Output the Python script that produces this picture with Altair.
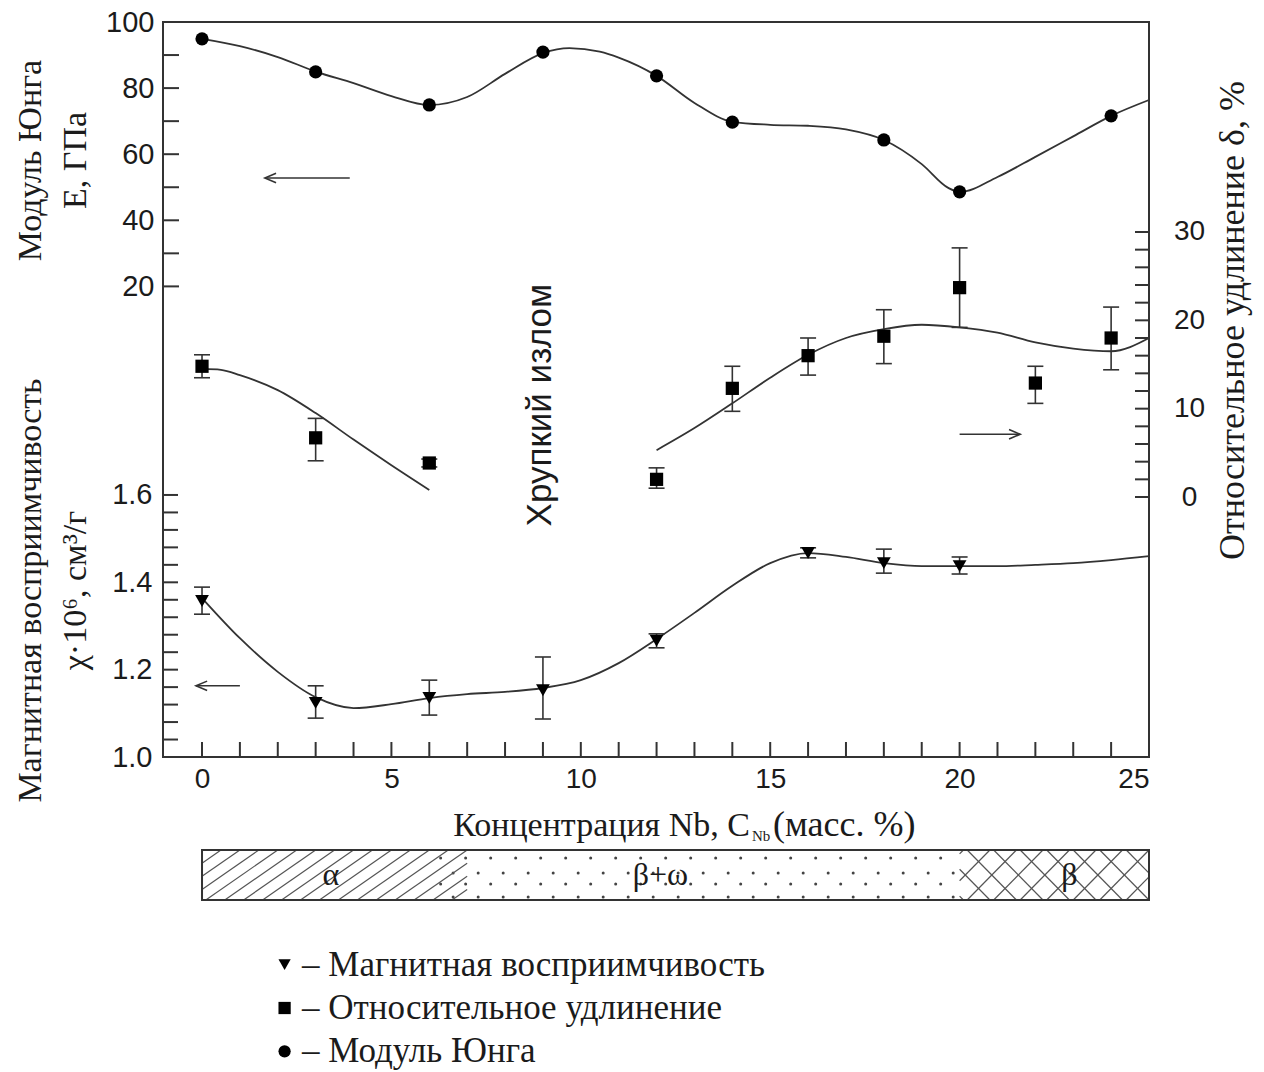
import altair as alt
import pandas as pd
import numpy as np

# ---------------- data ----------------
E_nb = [0, 3, 6, 9, 12, 14, 18, 20, 24]
E_val = [94.9, 84.9, 74.9, 90.9, 83.7, 69.7, 64.3, 48.6, 71.6]
E_fit_nb = [0, 1, 2, 3, 4, 5, 6, 7, 8, 9, 9.7, 10.5, 11, 12, 13, 14, 15, 16, 17, 18, 19, 19.7, 20, 21, 22, 23, 24, 25]
E_fit = [94.9, 92.7, 89.4, 85.0, 81.5, 77.6, 74.9, 77.3, 84.3, 90.6, 92.1, 91.0, 89.2, 83.7, 75.5, 69.8, 68.9,
         68.6, 67.5, 64.3, 57.0, 49.8, 48.6, 53.1, 59.2, 65.4, 71.6, 76.4]

chi_nb = [0, 3, 6, 9, 12, 16, 18, 20]
chi_val = [1.357, 1.124, 1.135, 1.153, 1.266, 1.467, 1.444, 1.437]
chi_lo = [1.327, 1.089, 1.096, 1.087, 1.250, 1.456, 1.421, 1.419]
chi_hi = [1.389, 1.163, 1.176, 1.229, 1.282, 1.479, 1.476, 1.458]
chi_fit_nb = [0, 1, 2, 3, 4, 5, 6, 7, 8, 9, 10, 11, 12, 13, 14, 15, 16, 17, 18, 19, 20, 21, 22, 23, 24, 25]
chi_fit = [1.364, 1.272, 1.195, 1.137, 1.112, 1.121, 1.135, 1.144, 1.149, 1.158, 1.176, 1.215, 1.270,
           1.330, 1.392, 1.444, 1.467, 1.458, 1.444, 1.437, 1.437, 1.437, 1.440, 1.444, 1.451, 1.460]

d_nb = [0, 3, 6, 12, 14, 16, 18, 20, 22, 24]
d_val = [14.8, 6.7, 3.85, 2.0, 12.3, 16.0, 18.2, 23.7, 12.9, 18.0]
d_lo = [13.5, 4.1, 3.4, 1.0, 9.7, 13.8, 15.1, 19.2, 10.6, 14.4]
d_hi = [16.1, 8.9, 4.3, 3.3, 14.8, 18.0, 21.2, 28.2, 14.8, 21.5]
d_fit1_nb = [0, 0.5, 1, 2, 3, 4, 5, 6]
d_fit1 = [14.5, 14.4, 13.8, 12.1, 9.5, 6.5, 3.6, 0.8]
d_fit2_nb = [12, 13, 14, 15, 16, 17, 18, 19, 20, 21, 22, 23, 24, 25]
d_fit2 = [5.3, 7.8, 10.6, 13.5, 16.1, 18.0, 19.0, 19.5, 19.2, 18.6, 17.5, 16.8, 16.5, 18.0]

# axis tick values
x_labels = [0, 5, 10, 15, 20, 25]
x_minor = [0, 1, 2, 3, 4, 5, 6, 7, 8, 9, 10, 11, 12, 13, 14, 15, 16, 17, 18, 19, 20, 21, 22, 23, 24]
E_labels = [20, 40, 60, 80, 100]
E_minor = [20, 30, 40, 50, 60, 70, 80, 90]
chi_labels = [1.0, 1.2, 1.4, 1.6]
chi_minor = [1.04, 1.08, 1.12, 1.16, 1.2, 1.24, 1.28, 1.32, 1.36, 1.4, 1.44, 1.48, 1.52, 1.56, 1.6]
d_labels = [0, 10, 20, 30]
d_minor = [0, 2, 4, 6, 8, 10, 12, 14, 16, 18, 20, 22, 24, 26, 28, 30]

# phase bar
phase_names = ["α", "β+ω", "β"]
phase_from = [0, 7, 20]
phase_to = [7, 20, 25]
phase_label_x = [3.4, 12.1, 22.9]

# legend
legend_labels = ["– Магнитная восприимчивость", "– Относительное удлинение", "– Модуль Юнга"]
legend_shapes = ["triangle-down", "square", "circle"]

# ---------------- styling ----------------
W, H = 986, 735
SANS = "Liberation Sans"
SERIF = "Liberation Serif"
INK = "#1b1b1b"
LINE = "#333333"
HEAD_L = "M 1 -0.42 L 0 0 L 1 0.42"
HEAD_R = "M -1 -0.42 L 0 0 L -1 0.42"
CAP = "M -1 0 L 1 0"

xs = alt.Scale(domain=[-1.03, 25], nice=False, zero=False)
x_axis = alt.Axis(values=x_labels, format="d", ticks=False, domain=False, grid=False,
                  labelFont=SANS, labelFontSize=28, labelColor=INK, labelPadding=8, title=None)


def X(field="x"):
    return alt.X(f"{field}:Q", scale=xs, axis=x_axis)


# ---- E (Young's modulus) ----
E_axis = alt.Axis(orient="left", values=E_labels, format="d", ticks=False, domain=False, grid=False,
                  labelFont=SANS, labelFontSize=29, labelColor=INK, labelPadding=9,
                  title=["Модуль Юнга", "E, ГПа"], titleFont=SERIF, titleFontSize=34,
                  titleFontWeight="normal", titleColor=INK, titleAngle=270, titleAlign="center",
                  titleBaseline="middle", titleLineHeight=45, titleX=-133, titleY=138)
E_scale = alt.Scale(domain=[-122.4, 100], nice=False, zero=False)


def EY(field="v"):
    return alt.Y(f"{field}:Q", scale=E_scale, axis=E_axis)


dfE = pd.DataFrame({"x": E_nb, "v": E_val})
dfEf = pd.DataFrame({"x": E_fit_nb, "v": E_fit})
dfEt = pd.DataFrame({"v": E_minor})
dfEa = pd.DataFrame({"x": [1.66], "x2": [3.9], "v": [52.8]})

E_layer = alt.layer(
    alt.Chart(dfEt).mark_rule(color=LINE, strokeWidth=2).encode(y=EY(), x=alt.value(0), x2=alt.value(16)),
    alt.Chart(dfEf).mark_line(interpolate="monotone", color=LINE, strokeWidth=1.8).encode(x=X(), y=EY()),
    alt.Chart(dfE).mark_point(shape="circle", filled=True, size=175, color="black", opacity=1).encode(x=X(), y=EY()),
    alt.Chart(dfEa).mark_rule(color=LINE, strokeWidth=1.6).encode(x=X(), x2="x2:Q", y=EY()),
    alt.Chart(dfEa).mark_point(shape=HEAD_L, filled=False, size=500, color=LINE, strokeWidth=1.6, opacity=1).encode(x=X(), y=EY()),
    alt.Chart(dfEa).mark_rect(fill="white", fillOpacity=0, stroke=LINE, strokeWidth=2).encode(
        x=alt.value(0), x2=alt.value(W), y=alt.value(0), y2=alt.value(H)),
)

# ---- chi (magnetic susceptibility) ----
chi_axis = alt.Axis(orient="left", values=chi_labels, format=".1f", ticks=False, domain=False, grid=False,
                    labelFont=SANS, labelFontSize=29, labelColor=INK, labelPadding=11,
                    title=["Магнитная восприимчивость", "χ·10⁶, см³/г"], titleFont=SERIF, titleFontSize=34,
                    titleFontWeight="normal", titleColor=INK, titleAngle=270, titleAlign="center",
                    titleBaseline="middle", titleLineHeight=45, titleX=-133, titleY=568)
chi_scale = alt.Scale(domain=[1.0, 2.683], nice=False, zero=False)


def CY(field="v"):
    return alt.Y(f"{field}:Q", scale=chi_scale, axis=chi_axis)


dfC = pd.DataFrame({"x": chi_nb, "v": chi_val, "lo": chi_lo, "hi": chi_hi})
dfCf = pd.DataFrame({"x": chi_fit_nb, "v": chi_fit})
dfCt = pd.DataFrame({"v": chi_minor})
dfXt = pd.DataFrame({"x": x_minor})
dfCa = pd.DataFrame({"x": [-0.16], "x2": [1.0], "v": [1.163]})
dfTitle = pd.DataFrame({"t": ["Концентрация Nb, C"], "s": ["Nb"], "r": ["(масс. %)"]})

chi_layer = alt.layer(
    alt.Chart(dfCt).mark_rule(color=LINE, strokeWidth=2).encode(y=CY(), x=alt.value(0), x2=alt.value(15)),
    alt.Chart(dfXt).mark_rule(color=LINE, strokeWidth=2).encode(x=X(), y=alt.value(H), y2=alt.value(H - 15)),
    alt.Chart(dfCf).mark_line(interpolate="monotone", color=LINE, strokeWidth=1.8).encode(x=X(), y=CY()),
    alt.Chart(dfC).mark_rule(color=LINE, strokeWidth=1.6).encode(x=X(), y=CY("lo"), y2="hi:Q"),
    alt.Chart(dfC).mark_point(shape=CAP, filled=False, size=256, color=LINE, strokeWidth=1.6, opacity=1).encode(x=X(), y=CY("lo")),
    alt.Chart(dfC).mark_point(shape=CAP, filled=False, size=256, color=LINE, strokeWidth=1.6, opacity=1).encode(x=X(), y=CY("hi")),
    alt.Chart(dfC).mark_point(shape="triangle-down", filled=True, size=190, color="black", opacity=1).encode(x=X(), y=CY()),
    alt.Chart(dfCa).mark_rule(color=LINE, strokeWidth=1.6).encode(x=X(), x2="x2:Q", y=CY()),
    alt.Chart(dfCa).mark_point(shape=HEAD_L, filled=False, size=500, color=LINE, strokeWidth=1.6, opacity=1).encode(x=X(), y=CY()),
    alt.Chart(dfTitle).mark_text(font=SERIF, fontSize=34, color=INK, align="right", baseline="alphabetic").encode(
        text="t:N", x=alt.value(587), y=alt.value(814)),
    alt.Chart(dfTitle).mark_text(font=SERIF, fontSize=15, color=INK, align="left", baseline="alphabetic").encode(
        text="s:N", x=alt.value(589), y=alt.value(819)),
    alt.Chart(dfTitle).mark_text(font=SERIF, fontSize=36, color=INK, align="left", baseline="alphabetic").encode(
        text="r:N", x=alt.value(610), y=alt.value(814)),
)

# ---- delta (elongation) ----
d_axis = alt.Axis(orient="right", values=d_labels, format="d", ticks=False, domain=False, grid=False,
                  labelFont=SANS, labelFontSize=28, labelColor=INK, labelPadding=40, labelAlign="center",
                  title="Относительное удлинение δ, %", titleFont=SERIF, titleFontSize=36,
                  titleFontWeight="normal", titleColor=INK, titleAngle=270, titleAlign="center",
                  titleBaseline="middle", titleX=83, titleY=298)
d_scale = alt.Scale(domain=[-29.43, 53.77], nice=False, zero=False)


def DY(field="v"):
    return alt.Y(f"{field}:Q", scale=d_scale, axis=d_axis)


dfD = pd.DataFrame({"x": d_nb, "v": d_val, "lo": d_lo, "hi": d_hi})
dfD1 = pd.DataFrame({"x": d_fit1_nb, "v": d_fit1})
dfD2 = pd.DataFrame({"x": d_fit2_nb, "v": d_fit2})
dfDt = pd.DataFrame({"v": d_minor})
dfDa = pd.DataFrame({"x": [21.6], "x2": [20.0], "v": [7.1]})
dfNote = pd.DataFrame({"x": [8.92], "v": [10.4], "t": ["Хрупкий излом"]})

d_layer = alt.layer(
    alt.Chart(dfDt).mark_rule(color=LINE, strokeWidth=2).encode(y=DY(), x=alt.value(W), x2=alt.value(W - 14)),
    alt.Chart(dfD1).mark_line(interpolate="monotone", color=LINE, strokeWidth=1.8).encode(x=X(), y=DY()),
    alt.Chart(dfD2).mark_line(interpolate="monotone", color=LINE, strokeWidth=1.8).encode(x=X(), y=DY()),
    alt.Chart(dfD).mark_rule(color=LINE, strokeWidth=1.6).encode(x=X(), y=DY("lo"), y2="hi:Q"),
    alt.Chart(dfD).mark_point(shape=CAP, filled=False, size=256, color=LINE, strokeWidth=1.6, opacity=1).encode(x=X(), y=DY("lo")),
    alt.Chart(dfD).mark_point(shape=CAP, filled=False, size=256, color=LINE, strokeWidth=1.6, opacity=1).encode(x=X(), y=DY("hi")),
    alt.Chart(dfD).mark_point(shape="square", filled=True, size=175, color="black", opacity=1).encode(x=X(), y=DY()),
    alt.Chart(dfDa).mark_rule(color=LINE, strokeWidth=1.6).encode(x=X(), x2="x2:Q", y=DY()),
    alt.Chart(dfDa).mark_point(shape=HEAD_R, filled=False, size=500, color=LINE, strokeWidth=1.6, opacity=1).encode(x=X(), y=DY()),
    alt.Chart(dfNote).mark_text(font=SANS, fontSize=35, color=INK, angle=270, align="center", baseline="middle").encode(
        x=X(), y=DY(), text="t:N"),
)

# ---------------- phase bar (below the axis) ----------------
bar_y = alt.Scale(domain=[0, 1], range=[878, 828], nice=False, zero=False)


def clip_lines(x_starts, run, a, b, rising=True):
    rows = []
    for x0 in x_starts:
        t_lo = max(0.0, (a - x0) / run)
        t_hi = min(1.0, (b - x0) / run)
        if t_lo < t_hi:
            xa, xb = x0 + run * t_lo, x0 + run * t_hi
            if rising:
                ya, yb = t_lo, t_hi
            else:
                ya, yb = 1 - t_lo, 1 - t_hi
            rows.append({"x": xa, "x2": xb, "y": ya, "y2": yb})
    return rows


hatch = []
hatch += clip_lines(np.arange(-1.9, 7.0, 0.5), 1.9, phase_from[0], phase_to[0], True)
hatch += clip_lines(np.arange(18.8, 25.0, 0.7), 1.3, phase_from[2], phase_to[2], True)
hatch += clip_lines(np.arange(18.8, 25.0, 0.7), 1.3, phase_from[2], phase_to[2], False)
dfH = pd.DataFrame(hatch)

dots = []
row_y = [0.84, 0.54, 0.32, 0.06]
for i, yy in enumerate(row_y):
    off = 0.0 if i % 2 == 0 else 0.33
    for xx in np.arange(6.3 + off, 19.9, 0.66):
        dots.append({"x": xx, "y": yy})
dfDots = pd.DataFrame(dots)

dfPh = pd.DataFrame({"name": phase_names, "x": phase_from, "x2": phase_to, "lx": phase_label_x})
dfOut = pd.DataFrame({"x": [phase_from[0]], "x2": [phase_to[-1]]})


def XB(f="x"):
    return alt.X(f"{f}:Q", scale=xs, axis=x_axis)


def YB(f="y"):
    return alt.Y(f"{f}:Q", scale=bar_y, axis=None)


bar_layer = alt.layer(
    alt.Chart(dfPh).mark_rect(fill="white").encode(x=XB(), x2="x2:Q", y=alt.Y(datum=0, scale=bar_y, axis=None), y2=alt.datum(1)),
    alt.Chart(dfDots).mark_point(shape="circle", filled=True, size=9, color="#444444", opacity=1).encode(x=XB(), y=YB()),
    alt.Chart(dfH).mark_rule(color="#555555", strokeWidth=1.2).encode(x=XB(), x2="x2:Q", y=YB(), y2="y2:Q"),
    alt.Chart(dfPh).mark_text(font=SERIF, fontSize=32, color=INK, baseline="middle", align="center").encode(
        x=XB("lx"), y=alt.Y(datum=0.5, scale=bar_y, axis=None), text="name:N"),
    alt.Chart(dfOut).mark_rect(fill="white", fillOpacity=0, stroke=LINE, strokeWidth=2).encode(
        x=XB(), x2="x2:Q", y=alt.Y(datum=0, scale=bar_y, axis=None), y2=alt.datum(1)),
)

# ---------------- legend (below the phase bar) ----------------
dfL = pd.DataFrame({"label": legend_labels, "shape": legend_shapes, "sx": [2.18] * 3, "tx": [2.64] * 3})
leg_y = alt.Y("label:N", scale=alt.Scale(domain=legend_labels, range=[921, 1051], paddingInner=0, paddingOuter=0), axis=None)
legend_layer = alt.layer(
    alt.Chart(dfL).mark_point(filled=True, size=150, color="black", opacity=1).encode(
        x=XB("sx"), y=leg_y, shape=alt.Shape("shape:N", scale=None)),
    alt.Chart(dfL).mark_text(font=SERIF, fontSize=35, color=INK, align="left", baseline="middle").encode(
        x=XB("tx"), y=leg_y, text="label:N"),
)

chart = alt.layer(E_layer, chi_layer, d_layer, bar_layer, legend_layer).resolve_scale(
    y="independent"
).properties(
    width=W, height=H,
    autosize=alt.AutoSizeParams(type="none"),
    padding={"left": 163, "top": 22, "right": 1264 - 163 - W, "bottom": 1072 - 22 - H},
).configure(background="white").configure_view(stroke="transparent", strokeWidth=0)

chart.save("out.html", embed_options={"renderer": "svg", "actions": False})
